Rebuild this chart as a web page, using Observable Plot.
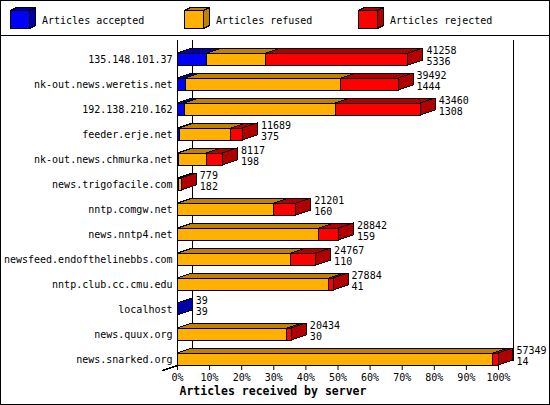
<!DOCTYPE html>
<html><head><meta charset="utf-8">
<script src="https://cdn.jsdelivr.net/npm/d3@7"></script>
<script src="https://cdn.jsdelivr.net/npm/@observablehq/plot@0.6"></script>
<style>
html,body{margin:0;padding:0;background:#fff;}
#wrap{position:relative;width:550px;height:405px;overflow:hidden;font-family:"DejaVu Sans Mono",monospace;font-size:10px;background:#fff;}
#frame{position:absolute;left:0;top:0;width:550px;height:405px;box-sizing:border-box;border:1px solid #000;pointer-events:none;}
#legend{position:absolute;left:0;top:0;width:550px;height:36px;box-sizing:border-box;border-bottom:1px solid #000;}
#legend svg{position:absolute;left:0;top:0;}
#chart{position:absolute;left:0;top:36px;}
</style></head><body>
<div id="wrap"><div id="legend"></div><div id="chart"></div><div id="frame"></div></div>
<script>
const servers = ["135.148.101.37","nk-out.news.weretis.net","192.138.210.162","feeder.erje.net","nk-out.news.chmurka.net","news.trigofacile.com","nntp.comgw.net","news.nntp4.net","newsfeed.endofthelinebbs.com","nntp.club.cc.cmu.edu","localhost","news.quux.org","news.snarked.org"];
const received = [41258,39492,43460,11689,8117,779,21201,28842,24767,27884,39,20434,57349];
const accepted = [5336,1444,1308,375,198,182,160,159,110,41,39,30,14];
const refused  = [10550,27800,26980,9220,5040,536,17116,25160,20210,27070,0,19620,56390];
const rejected = [25372,10248,15172,2094,2879,61,3925,3523,4447,773,0,784,945];
const seriesNames = ["Articles accepted","Articles refused","Articles rejected"];
const tickValues = [0,10,20,30,40,50,60,70,80,90,100];
const axisTitle = "Articles received by server";

const frontColor = ["#0000ff","#ffb000","#ff0000"];
const shadeColor = ["#0000a8","#c08000","#b00000"];

// legend
const leg = d3.select("#legend").append("svg").attr("width",550).attr("height",35);
seriesNames.forEach((n,k)=>{
  const g = leg.append("g").attr("transform",`translate(${10+174*k},0)`);
  g.append("polygon").attr("points","0.5,10.5 6.5,7.5 25.5,7.5 19.5,10.5").attr("fill",shadeColor[k]).attr("stroke","#000").attr("shape-rendering","crispEdges");
  g.append("polygon").attr("points","19.5,10.5 25.5,7.5 25.5,25.5 19.5,28.5").attr("fill",shadeColor[k]).attr("stroke","#000").attr("shape-rendering","crispEdges");
  g.append("rect").attr("x",0.5).attr("y",10.5).attr("width",19).attr("height",18).attr("fill",frontColor[k]).attr("stroke","#000").attr("shape-rendering","crispEdges");
  g.append("text").attr("x",32).attr("y",20).attr("dominant-baseline","central")
    .attr("font-family","DejaVu Sans Mono").attr("font-size",10).text(n);
});

// chart geometry (row units / percent units)
const maxTotal = d3.max(received);
const pct = v => v / maxTotal * 100;
const DX = 4.67, DY = 0.2, H = 0.24;
const Y0 = -0.88, Y1 = 12.24;
const segs = [], tops = [], sides = [], labels = [];
servers.forEach((s,i)=>{
  const vals = [accepted[i], refused[i], rejected[i]];
  let cum = 0, last = 0;
  vals.forEach((v,k)=>{
    if (v <= 0) return;
    const x1 = pct(cum), x2 = pct(cum+v);
    cum += v; last = k;
    const id = i*3+k;
    segs.push({k, x1, x2, y1: i-H, y2: i+H});
    tops.push({id, k, y: i-H, x1, x2}, {id, k, y: i-H-DY, x1: x1+DX, x2: x2+DX});
  });
  const xe = pct(cum);
  sides.push({id:i, k:last, x: xe, y1: i+H, y2: i-H}, {id:i, k:last, x: xe+DX, y1: i+H-DY, y2: i-H-DY});
  labels.push({row:i, x: xe+DX, total: received[i], acc: accepted[i]});
});

const plot = Plot.plot({
  width: 550, height: 369,
  marginLeft: 177, marginRight: 52, marginTop: 1, marginBottom: 40,
  x: {domain: [0,100]},
  y: {domain: [Y0, Y1], reverse: true},
  color: {type: "identity"},
  style: {fontFamily: "DejaVu Sans Mono", fontSize: "10px", background: "white", color: "black", overflow: "visible"},
  marks: [
    Plot.ruleX([DX, 100+DX], {y1: -0.76, y2: Y1-DY, stroke: "#000", shapeRendering: "crispEdges"}),
    Plot.line([{x: DX, y: Y1-DY},{x: 100+DX, y: Y1-DY}], {x:"x", y:"y", stroke:"#000", shapeRendering: "crispEdges"}),
    Plot.line([{x: DX, y: Y1-DY},{x: -DX, y: Y1+DY}], {x:"x", y:"y", stroke:"#000", shapeRendering: "crispEdges"}),
    Plot.ruleX([0], {y1: -0.76, y2: Y1, stroke: "#000", shapeRendering: "crispEdges"}),
    Plot.areaX(tops, {y:"y", x1:"x1", x2:"x2", z:"id", fill: d=>shadeColor[d.k], stroke:"#000", strokeWidth: 1, shapeRendering: "crispEdges"}),
    Plot.rect(segs, {x1:"x1", x2:"x2", y1:"y1", y2:"y2", fill: d=>frontColor[d.k], stroke:"#000", shapeRendering: "crispEdges"}),
    Plot.areaY(sides, {x:"x", y1:"y1", y2:"y2", z:"id", fill: d=>shadeColor[d.k], stroke:"#000", shapeRendering: "crispEdges"}),
    Plot.text(labels, {x:"x", y:"row", text: d=>String(d.total), dx: 3, dy: -9, textAnchor: "start", fill: "#000"}),
    Plot.text(labels, {x:"x", y:"row", text: d=>String(d.acc), dx: 3, dy: 2, textAnchor: "start", fill: "#000"}),
    Plot.axisY({ticks: d3.range(servers.length), tickFormat: i=>servers[i], tickSize: 0, tickPadding: 5, label: null}),
    Plot.axisX({ticks: tickValues, tickFormat: d=>d+"%", tickSize: 5, tickPadding: 3, label: null}),
    Plot.text([axisTitle], {frameAnchor: "bottom-left", dx: 2, dy: 29, textAnchor: "start", fontWeight: "bold", fontSize: 11.5, fill: "#000"})
  ]
});
document.getElementById("chart").appendChild(plot);
</script>
</body></html>
